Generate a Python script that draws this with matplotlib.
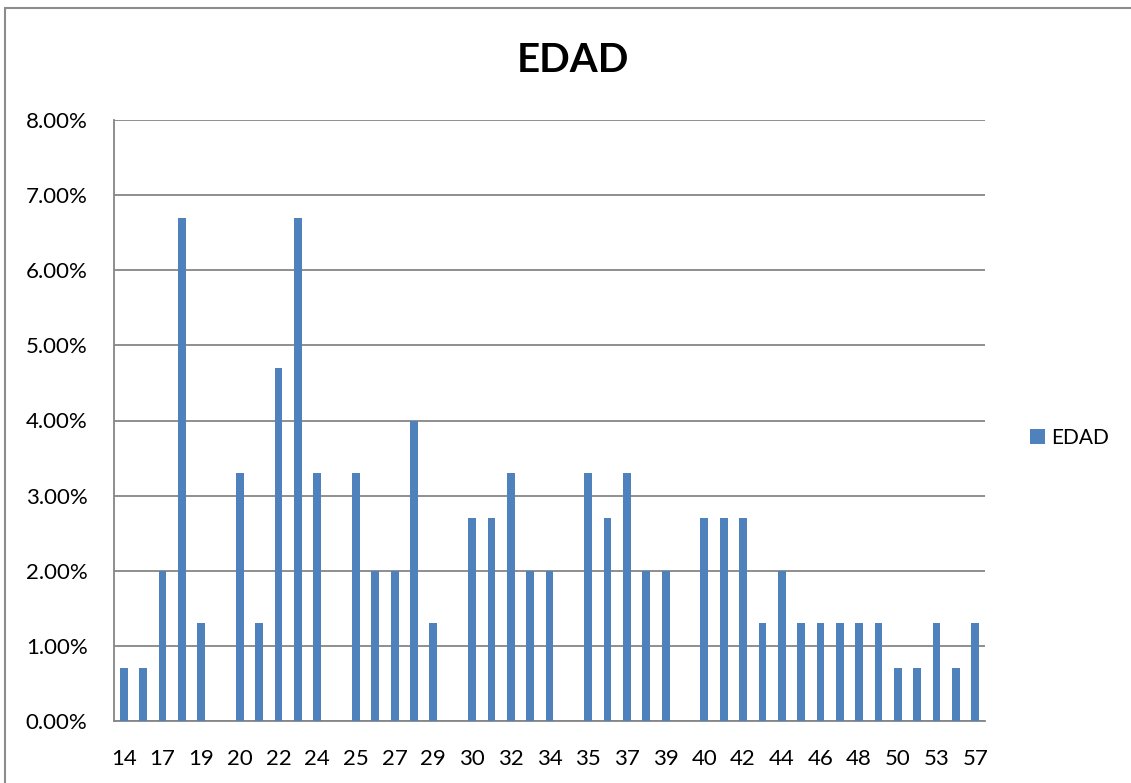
import matplotlib
matplotlib.use("Agg")
import matplotlib.pyplot as plt
from matplotlib.patches import Rectangle
from matplotlib.ticker import FuncFormatter
import numpy as np

plt.rcParams['font.family'] = ['Lato', 'DejaVu Sans']

# Categories (ages); blank slots are empty categories, only every other label shows
categories = ["14", "15", "17", "18", "19", "", "20", "21", "22", "23", "24", "",
              "25", "26", "27", "28", "29", "", "30", "31", "32", "33", "34", "",
              "35", "36", "37", "38", "39", "", "40", "41", "42", "43", "44", "45",
              "46", "47", "48", "49", "50", "52", "53", "55", "57"]
# Percent values
values = [0.7, 0.7, 2.0, 6.7, 1.3, 0, 3.3, 1.3, 4.7, 6.7, 3.3, 0,
          3.3, 2.0, 2.0, 4.0, 1.3, 0, 2.7, 2.7, 3.3, 2.0, 2.0, 0,
          3.3, 2.7, 3.3, 2.0, 2.0, 0, 2.7, 2.7, 2.7, 1.3, 2.0, 1.3,
          1.3, 1.3, 1.3, 1.3, 0.7, 0.7, 1.3, 0.7, 1.3]
series_name = "EDAD"
title = "EDAD"

W, H = 1131, 783
fig = plt.figure(figsize=(W / 100, H / 100), dpi=100)
ax = fig.add_axes([114 / W, 1 - 721 / H, (985 - 114) / W, (721 - 120) / H])

x = np.arange(len(categories))
bars = ax.bar(x, values, width=0.4, color="#4F81BD", label=series_name, zorder=3)

ax.set_xlim(-0.5, len(categories) - 0.5)
ax.set_ylim(0, 8)
ax.set_yticks(np.arange(0, 9, 1))
ax.yaxis.set_major_formatter(FuncFormatter(lambda v, p: f"{v:.2f}%"))
ax.set_xticks(x[::2])
ax.set_xticklabels(categories[::2])

grid_col = "#868686"
ax.yaxis.grid(True, color=grid_col, linewidth=1.3, zorder=0)
ax.set_axisbelow(True)
for s in ["top", "right"]:
    ax.spines[s].set_visible(False)
for s in ["left", "bottom"]:
    ax.spines[s].set_color(grid_col)
    ax.spines[s].set_linewidth(1.3)

ax.tick_params(axis="both", length=0, labelsize=16, colors="black")
ax.tick_params(axis="y", pad=19)
ax.tick_params(axis="x", pad=20)

fig.text(573 / W, 1 - 60 / H, title, ha="center", va="center",
         fontsize=29, fontweight="bold")

fig.legend(handles=[bars], labels=[series_name], loc="center left",
           bbox_to_anchor=(1030 / W, 1 - 438 / H), frameon=False,
           fontsize=15, handlelength=0.7, handleheight=0.7,
           handletextpad=0.3, borderpad=0, borderaxespad=0)

border = Rectangle((5 / W, -0.1), 2.0, 1 - 8 / H + 0.1, transform=fig.transFigure,
                   fill=False, edgecolor="#8c8c8c", linewidth=1.5, clip_on=False)
fig.patches.append(border)

fig.savefig("out.png", dpi=100)
